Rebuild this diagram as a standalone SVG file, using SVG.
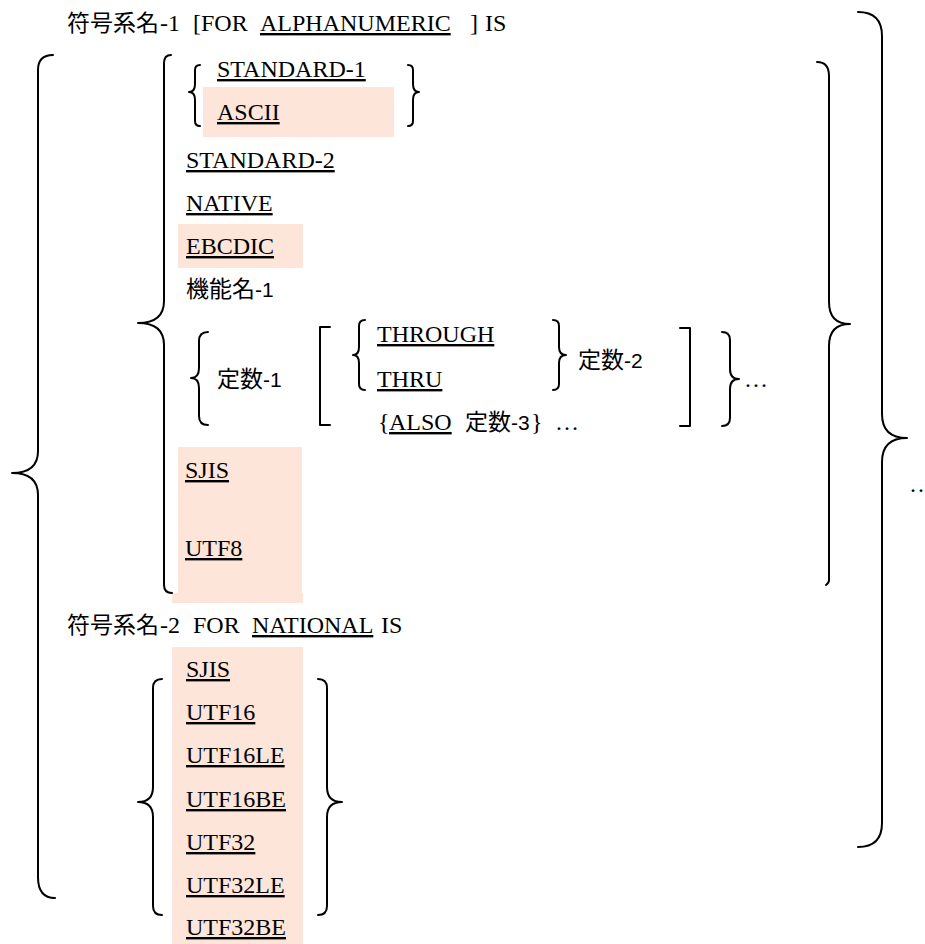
<svg xmlns="http://www.w3.org/2000/svg" width="925" height="944" viewBox="0 0 925 944">
<style>
.t{font-family:"Liberation Serif","Times New Roman","DejaVu Serif",serif;font-size:24px;fill:#000}
.s{font-family:"Liberation Sans",Arial,sans-serif;font-size:21px;fill:#000}
.j{font-family:"Noto Sans CJK JP","Noto Sans CJK SC",sans-serif;font-size:23px;fill:#000}
.u{text-decoration:underline}
.hl{fill:#FDE5DA}
.br{fill:none;stroke:#000;stroke-width:2;stroke-linejoin:round;stroke-linecap:round}
</style>
<rect width="925" height="944" fill="#fff"/>
<g id="highlights">
<rect class="hl" x="203" y="87" width="191" height="50"/>
<rect class="hl" x="178" y="224" width="125" height="44"/>
<rect class="hl" x="178" y="447" width="124" height="146"/>
<rect class="hl" x="172" y="593" width="131" height="10"/>
<rect class="hl" x="172" y="647" width="131" height="297"/>
</g>
<g id="connectors">
<path class="br" d="M53 55 Q38 55 38 70 L38 451 Q38 473 12 473 Q38 473 38 495 L38 877 Q38 898 55 898"/>
<path class="br" d="M171 55 Q164 55 164 63 L164 301 Q164 323 138 323 Q164 323 164 345 L164 585 Q164 593 172 593"/>
<path class="br" d="M200 65 Q195 65 195 70 L195 84 Q195 92 189 92 Q195 92 195 100 L195 121 Q195 126 200 126"/>
<path class="br" d="M408 65 Q413 65 413 70 L413 84 Q413 92 419 92 Q413 92 413 100 L413 121 Q413 126 408 126"/>
<path class="br" d="M208 332 Q199 332 199 341 L199 368 Q199 378 191 378 Q199 378 199 388 L199 416 Q199 425 208 425"/>
<path class="br" d="M330 327 H320 V425 H330"/>
<path class="br" d="M365 320 Q359 320 359 326 L359 347 Q359 355 353 355 Q359 355 359 363 L359 384 Q359 390 365 390"/>
<path class="br" d="M553 320 Q559 320 559 326 L559 347 Q559 355 566 355 Q559 355 559 363 L559 384 Q559 390 553 390"/>
<path class="br" d="M680 328 H690 V426 H680"/>
<path class="br" d="M722 332 Q730 332 730 340 L730 369 Q730 379 739 379 Q730 379 730 389 L730 418 Q730 426 722 426"/>
<path class="br" d="M817 62 Q829 62 829 76 L829 302 Q829 324 850 324 Q829 324 829 346 L829 580 Q829 583 826 585"/>
<path class="br" d="M858 12 Q882 12 882 36 L882 414 Q882 438 907 438 Q882 438 882 462 L882 823 Q882 847 858 847"/>
<path class="br" d="M162 679 Q153 679 153 688 L153 787 Q153 802 138 802 Q153 802 153 817 L153 906 Q153 915 162 915"/>
<path class="br" d="M318 679 Q327 679 327 688 L327 787 Q327 802 342 802 Q327 802 327 817 L327 906 Q327 915 318 915"/>
</g>
<g id="header1">
<text class="j" x="67" y="31">符号系名</text>
<text class="t" x="160" y="31">-1</text>
<text class="t" x="193" y="31">[FOR</text>
<text class="t u" x="260" y="31">ALPHANUMERIC</text>
<text class="t" x="470" y="31">]</text>
<text class="t" x="485" y="31">IS</text>
</g>
<g id="n-standard1"><text class="t u" x="217" y="77">STANDARD-1</text></g>
<g id="n-ascii"><text class="t u" x="217" y="120">ASCII</text></g>
<g id="n-standard2"><text class="t u" x="186" y="168">STANDARD-2</text></g>
<g id="n-native"><text class="t u" x="186" y="211">NATIVE</text></g>
<g id="n-ebcdic"><text class="t u" x="186" y="254">EBCDIC</text></g>
<g id="n-kino"><text class="j" x="186" y="297">機能名<tspan class="s">-1</tspan></text></g>
<g id="n-teisu1"><text class="j" x="217" y="387">定数<tspan class="s">-1</tspan></text></g>
<g id="n-through"><text class="t u" x="377" y="342">THROUGH</text></g>
<g id="n-thru"><text class="t u" x="377" y="387">THRU</text></g>
<g id="n-teisu2"><text class="j" x="578" y="368">定数<tspan class="s">-2</tspan></text></g>
<g id="n-also">
<text class="t" x="378" y="430">{</text>
<text class="t u" x="389" y="430">ALSO</text>
<text class="j" x="465" y="430">定数<tspan class="s">-3</tspan></text>
<text class="t" x="531" y="430">}</text>
<text class="t" x="555" y="430">…</text>
</g>
<g id="n-ellipsis1"><text class="t" x="744" y="387">…</text></g>
<g id="n-sjis1"><text class="t u" x="185" y="478">SJIS</text></g>
<g id="n-utf8"><text class="t u" x="185" y="556">UTF8</text></g>
<g id="n-ellipsis2"><text class="t" x="910" y="492" letter-spacing="2">..</text></g>
<g id="header2">
<text class="j" x="67" y="633">符号系名</text>
<text class="t" x="160" y="633">-2</text>
<text class="t" x="193" y="633">FOR</text>
<text class="t u" x="252" y="633">NATIONAL</text>
<text class="t" x="381" y="633">IS</text>
</g>
<g id="n-national">
<text class="t u" x="186" y="677">SJIS</text>
<text class="t u" x="186" y="720">UTF16</text>
<text class="t u" x="186" y="763">UTF16LE</text>
<text class="t u" x="186" y="807">UTF16BE</text>
<text class="t u" x="186" y="850">UTF32</text>
<text class="t u" x="186" y="893">UTF32LE</text>
<text class="t u" x="186" y="935">UTF32BE</text>
</g>
</svg>
